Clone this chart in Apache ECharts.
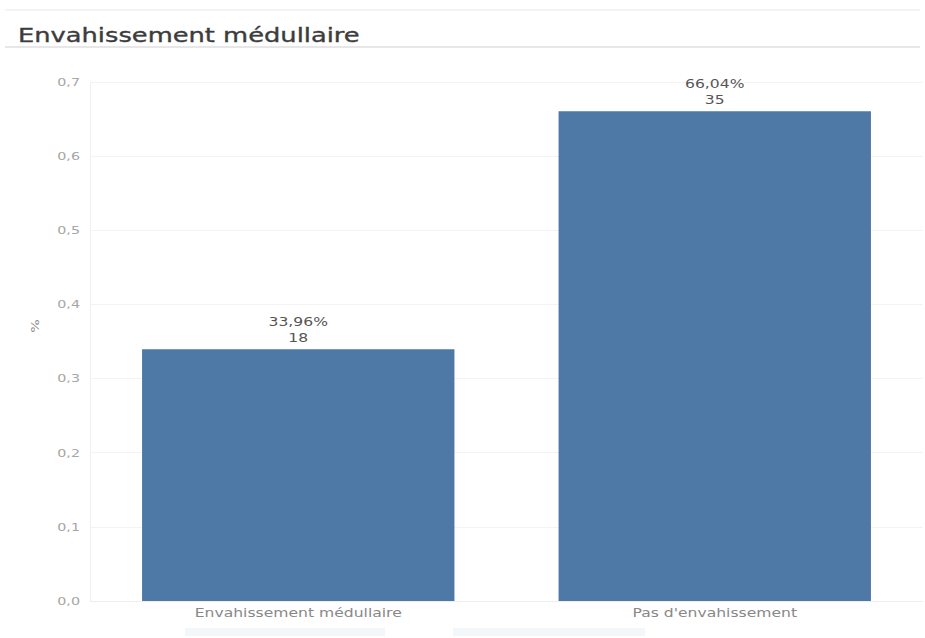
<!DOCTYPE html>
<html>
<head>
<meta charset="utf-8">
<script src="https://cdn.jsdelivr.net/npm/echarts@6/dist/echarts.min.js"></script>
<style>
html,body{margin:0;padding:0;background:#fff;}
#chart{width:925px;height:638px;}
</style>
</head>
<body>
<div id="chart"></div>
<script>
// Répartition selon l'envahissement médullaire
const titleText = 'Envahissement médullaire';
const categories = ['Envahissement médullaire', "Pas d'envahissement"];
const shares = [0.3396, 0.6604];
const counts = [18, 35];
const yTicks = [0, 0.1, 0.2, 0.3, 0.4, 0.5, 0.6, 0.7];

const fmtComma = (v, d) => v.toFixed(d).replace('.', ',');
const FONT = 'DejaVu Sans, Verdana, sans-serif';
const TEXT_WIDEN = 1.3;   // horizontal stretch of the lettering

const chart = echarts.init(document.getElementById('chart'), null, { renderer: 'svg' });
chart.setOption({
  animation: false,
  textStyle: { fontFamily: FONT },
  title: {
    text: titleText,
    left: 13, top: 20,
    textStyle: {
      fontSize: 19.8, fontWeight: 'normal', color: '#3c3c3c', fontFamily: FONT,
      textBorderColor: '#3c3c3c', textBorderWidth: 0.35
    }
  },
  graphic: [
    { type: 'line', shape: { x1: 5, y1: 10, x2: 920, y2: 10 }, style: { stroke: '#e8e8e8', lineWidth: 1 } },
    { type: 'line', shape: { x1: 5, y1: 47, x2: 920, y2: 47 }, style: { stroke: '#cfcfcf', lineWidth: 1 } },
    { type: 'rect', shape: { x: 185, y: 628, width: 200, height: 8 }, style: { fill: '#f4f7fa' } },
    { type: 'rect', shape: { x: 453, y: 628, width: 192, height: 8 }, style: { fill: '#f4f7fa' } },
    {
      type: 'text', x: 35, y: 326, rotation: Math.PI / 2,
      style: { text: '%', fill: '#8a8a8a', fontSize: 11, fontFamily: FONT, align: 'center', verticalAlign: 'middle' }
    }
  ],
  grid: { left: 90, right: 2, top: 82, bottom: 37, containLabel: false },
  xAxis: {
    type: 'category',
    data: categories,
    axisLine: { show: true, lineStyle: { color: '#eeeeee' } },
    axisTick: { show: false },
    axisLabel: { color: '#888', fontSize: 12, margin: 6 }
  },
  yAxis: {
    type: 'value',
    min: 0, max: 0.7, interval: 0.1,
    axisLine: { show: true, lineStyle: { color: '#f0f0f0' } },
    axisTick: { show: false },
    splitLine: { lineStyle: { color: '#f3f3f3' } },
    axisLabel: {
      color: '#a6a6a6', fontSize: 11, margin: 10,
      formatter: v => fmtComma(yTicks.reduce((a, b) => Math.abs(b - v) < Math.abs(a - v) ? b : a), 1)
    }
  },
  series: [{
    type: 'bar',
    data: shares,
    barWidth: '75%',
    itemStyle: { color: '#4e78a5' },
    label: {
      show: true,
      position: 'top',
      distance: 4,
      color: '#555',
      fontSize: 12,
      lineHeight: 16,
      align: 'center',
      formatter: p => fmtComma(p.value * 100, 2) + '%\n' + counts[p.dataIndex]
    }
  }]
});

// stretch each text element sideways around its own anchor point
function widenText() {
  document.querySelectorAll('#chart svg text').forEach(t => {
    const cur = t.getAttribute('transform') || '';
    if (t.dataset.widened && cur === t.dataset.widened) return;
    const x = parseFloat(t.getAttribute('x')) || 0;
    const y = parseFloat(t.getAttribute('y')) || 0;
    const next = cur + ' translate(' + x + ' ' + y + ') scale(' + TEXT_WIDEN + ' 1) translate(' + (-x) + ' ' + (-y) + ')';
    t.setAttribute('transform', next.trim());
    t.dataset.widened = next.trim();
  });
}
chart.on('finished', widenText);
widenText();
setTimeout(widenText, 0);
requestAnimationFrame(widenText);
</script>
</body>
</html>
